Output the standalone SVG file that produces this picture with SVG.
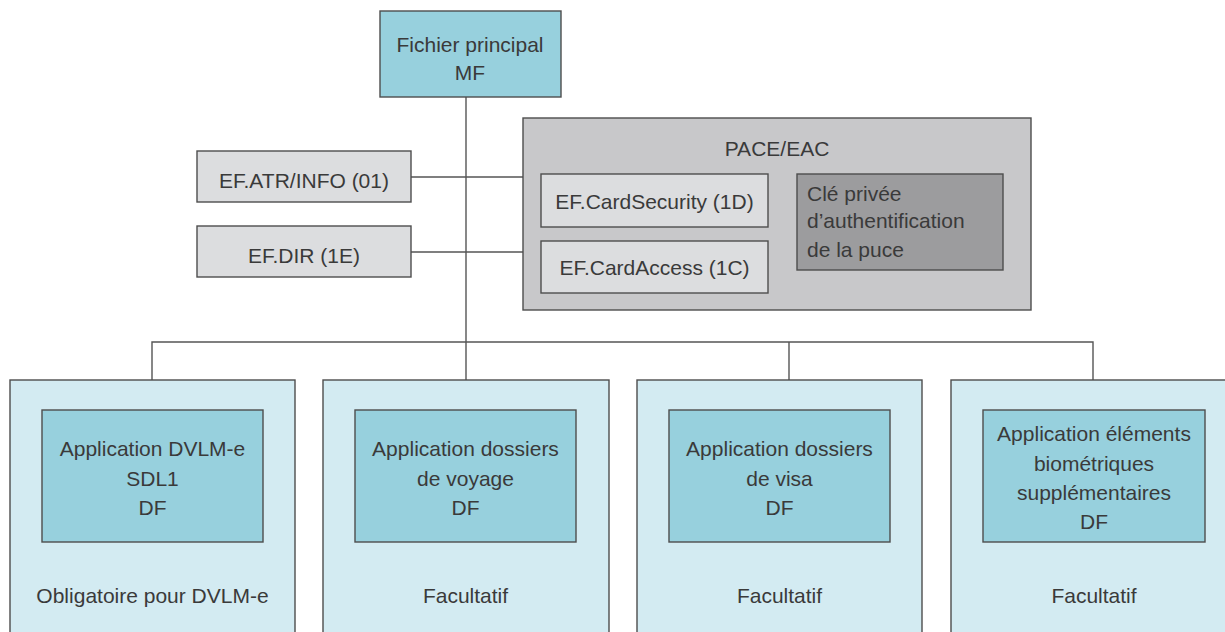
<svg xmlns="http://www.w3.org/2000/svg" width="1225" height="632" viewBox="0 0 1225 632">
<style>
text{font-family:"Liberation Sans",Arial,sans-serif;font-size:21px;fill:#3a3a3a}
.c{text-anchor:middle}
.b{stroke:#4d4d4d;stroke-width:1.4}
.teal{fill:#97d0dd}
.pale{fill:#d3ebf2}
.lg{fill:#dcdddf}
.mg{fill:#c8c8ca}
.dg{fill:#9c9c9e}
.ln{stroke:#555;stroke-width:1.4;fill:none}
</style>
<rect width="1225" height="632" fill="#fff"/>
<g id="connectors">
<line class="ln" x1="466" y1="97" x2="466" y2="342"/>
<line class="ln" x1="411" y1="177" x2="523" y2="177"/>
<line class="ln" x1="411" y1="252" x2="523" y2="252"/>
<polyline class="ln" points="152,380 152,342 1093,342 1093,380"/>
<line class="ln" x1="466" y1="342" x2="466" y2="380"/>
<line class="ln" x1="789" y1="342" x2="789" y2="380"/>
</g>
<g id="mf">
<rect class="b teal" x="380" y="11" width="181" height="86"/>
<text class="c" x="470" y="52">Fichier principal</text>
<text class="c" x="470" y="80">MF</text>
</g>
<g id="ef-atr">
<rect class="b lg" x="197" y="151" width="214" height="51"/>
<text class="c" x="304" y="188">EF.ATR/INFO (01)</text>
</g>
<g id="ef-dir">
<rect class="b lg" x="197" y="226" width="214" height="51"/>
<text class="c" x="304" y="263">EF.DIR (1E)</text>
</g>
<g id="pace">
<rect class="b mg" x="523" y="118" width="508" height="192"/>
<text class="c" x="777" y="156">PACE/EAC</text>
</g>
<g id="cardsecurity">
<rect class="b lg" x="541" y="174" width="227" height="53"/>
<text class="c" x="654.5" y="209">EF.CardSecurity (1D)</text>
</g>
<g id="cardaccess">
<rect class="b lg" x="541" y="241" width="227" height="52"/>
<text class="c" x="654.5" y="275">EF.CardAccess (1C)</text>
</g>
<g id="cle">
<rect class="b dg" x="797" y="174" width="206" height="96"/>
<text x="807" y="201">Clé privée</text>
<text x="807" y="228">d’authentification</text>
<text x="807" y="257">de la puce</text>
</g>
<g id="app1">
<rect class="b pale" x="10" y="380" width="285" height="260"/>
<rect class="b teal" x="42" y="410" width="221" height="132"/>
<text class="c" x="152.5" y="456">Application DVLM-e</text>
<text class="c" x="152.5" y="486">SDL1</text>
<text class="c" x="152.5" y="515">DF</text>
<text class="c" x="152.5" y="603">Obligatoire pour DVLM-e</text>
</g>
<g id="app2">
<rect class="b pale" x="323" y="380" width="286" height="260"/>
<rect class="b teal" x="355" y="410" width="221" height="132"/>
<text class="c" x="465.5" y="456">Application dossiers</text>
<text class="c" x="465.5" y="486">de voyage</text>
<text class="c" x="465.5" y="515">DF</text>
<text class="c" x="465.5" y="603">Facultatif</text>
</g>
<g id="app3">
<rect class="b pale" x="637" y="380" width="285" height="260"/>
<rect class="b teal" x="669" y="410" width="221" height="132"/>
<text class="c" x="779.5" y="456">Application dossiers</text>
<text class="c" x="779.5" y="486">de visa</text>
<text class="c" x="779.5" y="515">DF</text>
<text class="c" x="779.5" y="603">Facultatif</text>
</g>
<g id="app4">
<rect class="b pale" x="951" y="380" width="285" height="260"/>
<rect class="b teal" x="983" y="410" width="222" height="132"/>
<text class="c" x="1094" y="441">Application éléments</text>
<text class="c" x="1094" y="471">biométriques</text>
<text class="c" x="1094" y="500">supplémentaires</text>
<text class="c" x="1094" y="529">DF</text>
<text class="c" x="1094" y="603">Facultatif</text>
</g>
</svg>
